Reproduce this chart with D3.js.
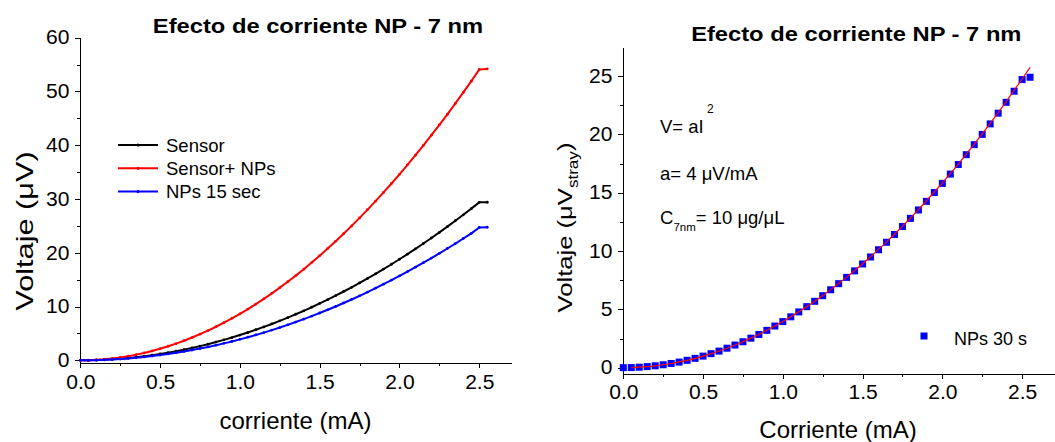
<!DOCTYPE html>
<html>
<head>
<meta charset="utf-8">
<script src="https://cdn.jsdelivr.net/npm/d3@7"></script>
<style>
  body { margin: 0; background: #fff; }
  svg text { font-family: "Liberation Sans", Arial, sans-serif; fill: #000; }
  .axis path, .axis line { stroke: #000; stroke-width: 1px; shape-rendering: crispEdges; }
  .axis text { font-size: 19.5px; }
</style>
</head>
<body>
<svg id="chart" width="1055" height="442"></svg>
<script>
'use strict';

// corriente (mA), same sweep for every series
var corriente = [
  0.00, 0.05, 0.10, 0.15, 0.20, 0.25, 0.30, 0.35, 0.40, 0.45,
  0.50, 0.55, 0.60, 0.65, 0.70, 0.75, 0.80, 0.85, 0.90, 0.95,
  1.00, 1.05, 1.10, 1.15, 1.20, 1.25, 1.30, 1.35, 1.40, 1.45,
  1.50, 1.55, 1.60, 1.65, 1.70, 1.75, 1.80, 1.85, 1.90, 1.95,
  2.00, 2.05, 2.10, 2.15, 2.20, 2.25, 2.30, 2.35, 2.40, 2.45,
  2.50, 2.55
];

// left panel, voltaje (uV)
var sensor = [
  0.00, 0.01, 0.05, 0.10, 0.19, 0.29, 0.42, 0.58, 0.75, 0.95,
  1.18, 1.42, 1.69, 1.99, 2.30, 2.64, 3.01, 3.40, 3.81, 4.24,
  4.70, 5.18, 5.69, 6.22, 6.77, 7.34, 7.94, 8.57, 9.21, 9.88,
  10.58, 11.29, 12.03, 12.80, 13.58, 14.39, 15.23, 16.09, 16.97, 17.87,
  18.80, 19.75, 20.73, 21.73, 22.75, 23.79, 24.86, 25.96, 27.07, 28.21,
  29.38, 29.40
];
var sensorNPs = [
  0.00, 0.02, 0.09, 0.19, 0.35, 0.54, 0.78, 1.06, 1.38, 1.75,
  2.16, 2.62, 3.11, 3.65, 4.24, 4.87, 5.54, 6.25, 7.01, 7.81,
  8.65, 9.54, 10.47, 11.44, 12.46, 13.52, 14.62, 15.76, 16.95, 18.19,
  19.46, 20.78, 22.14, 23.55, 25.00, 26.49, 28.03, 29.60, 31.23, 32.89,
  34.60, 36.35, 38.15, 39.99, 41.87, 43.79, 45.76, 47.77, 49.82, 51.92,
  54.10, 54.20
];
var nps15 = [
  0.00, 0.01, 0.04, 0.09, 0.16, 0.25, 0.36, 0.48, 0.63, 0.80,
  0.98, 1.19, 1.41, 1.66, 1.92, 2.20, 2.50, 2.82, 3.16, 3.52,
  3.90, 4.30, 4.72, 5.16, 5.62, 6.10, 6.60, 7.12, 7.66, 8.22,
  8.80, 9.40, 10.02, 10.66, 11.32, 12.00, 12.70, 13.42, 14.16, 14.92,
  15.70, 16.50, 17.32, 18.16, 19.02, 19.90, 20.80, 21.72, 22.66, 23.62,
  24.70, 24.75
];

// right panel, voltaje (uV stray)
var nps30 = [
  0.00, 0.01, 0.04, 0.09, 0.16, 0.25, 0.36, 0.48, 0.63, 0.80,
  0.99, 1.20, 1.42, 1.67, 1.94, 2.22, 2.53, 2.85, 3.20, 3.57,
  3.95, 4.36, 4.78, 5.23, 5.69, 6.17, 6.68, 7.20, 7.74, 8.30,
  8.89, 9.49, 10.11, 10.75, 11.42, 12.10, 12.80, 13.52, 14.26, 15.02,
  15.80, 16.60, 17.42, 18.26, 19.12, 20.00, 20.90, 21.82, 22.75, 23.70,
  24.70, 24.90
];
// fit V = aI^2, starts at 0.05 mA
var ajuste = [
  null, 0.01, 0.04, 0.09, 0.16, 0.25, 0.36, 0.49, 0.63, 0.80,
  0.99, 1.20, 1.43, 1.67, 1.94, 2.23, 2.53, 2.86, 3.21, 3.57,
  3.96, 4.37, 4.79, 5.24, 5.70, 6.19, 6.69, 7.22, 7.76, 8.33,
  8.91, 9.51, 10.14, 10.78, 11.44, 12.13, 12.83, 13.55, 14.30, 15.06,
  15.84, 16.64, 17.46, 18.31, 19.17, 20.05, 20.95, 21.87, 22.81, 23.77,
  24.75, 25.75
];

var xTicks = [ 0, 0.5, 1.0, 1.5, 2.0, 2.5 ];
var xMinor = [ 0.25, 0.75, 1.25, 1.75, 2.25 ];
var yTicksLeft = [ 0, 10, 20, 30, 40, 50, 60 ];
var yMinorLeft = [ 5, 15, 25, 35, 45, 55 ];
var yTicksRight = [ 0, 5, 10, 15, 20, 25 ];
var yMinorRight = [ 2.5, 7.5, 12.5, 17.5, 22.5 ];

var leftSeries = [
  { name: 'Sensor', values: sensor, color: '#000000' },
  { name: 'Sensor+ NPs', values: sensorNPs, color: '#ff0000' },
  { name: 'NPs 15 sec', values: nps15, color: '#0000ff' }
];

var svg = d3.select( '#chart' );

function pairs( values ) {
  return corriente.map( function( c, i ) {
    return { x: c, y: values[i] };
  } ).filter( function( d ) { return d.y !== null; } );
}

// text drawn with a horizontal stretch, the export is a bit wide
function label( txt, x, y, size, sx, opts ) {
  opts = opts || {};
  var t = svg.append( 'text' )
    .attr( 'transform', 'translate(' + x + ',' + y + ')' +
      ( opts.rotate ? ' rotate(' + opts.rotate + ')' : '' ) +
      ' scale(' + sx + ',1)' )
    .attr( 'text-anchor', opts.anchor || 'start' )
    .style( 'font-size', size + 'px' )
    .style( 'font-weight', opts.bold ? 'bold' : 'normal' );
  if ( txt !== null ) t.text( txt );
  return t;
}

function drawAxes( x, y, yTicks, yMinor, height ) {
  var gx = svg.append( 'g' )
    .attr( 'class', 'axis' )
    .attr( 'transform', 'translate(0,' + height + ')' )
    .call( d3.axisBottom( x )
      .tickValues( xTicks )
      .tickFormat( d3.format( '.1f' ) )
      .tickSize( 5 )
      .tickPadding( 7 )
      .tickSizeOuter( 0 ) );
  gx.selectAll( '.tick text' ).attr( 'transform', 'scale(1.08,1)' );

  svg.append( 'g' )
    .attr( 'class', 'axis' )
    .attr( 'transform', 'translate(0,' + height + ')' )
    .call( d3.axisBottom( x ).tickValues( xMinor ).tickFormat( '' ).tickSize( 3 ).tickSizeOuter( 0 ) )
    .call( function( g ) { g.select( '.domain' ).remove(); } );

  var left = x.range()[0];
  var gy = svg.append( 'g' )
    .attr( 'class', 'axis' )
    .attr( 'transform', 'translate(' + left + ',0)' )
    .call( d3.axisLeft( y )
      .tickValues( yTicks )
      .tickFormat( d3.format( 'd' ) )
      .tickSize( 5 )
      .tickPadding( 5 )
      .tickSizeOuter( 0 ) );
  gy.selectAll( '.tick text' ).attr( 'transform', 'scale(1.08,1)' );

  svg.append( 'g' )
    .attr( 'class', 'axis' )
    .attr( 'transform', 'translate(' + left + ',0)' )
    .call( d3.axisLeft( y ).tickValues( yMinor ).tickFormat( '' ).tickSize( 3 ).tickSizeOuter( 0 ) )
    .call( function( g ) { g.select( '.domain' ).remove(); } );
}

// ---------- left panel ----------
var x1 = d3.scaleLinear().domain( [ 0, 2.7 ] ).range( [ 80.3, 511.2 ] );
var y1 = d3.scaleLinear().domain( [ -0.55, 60 ] ).range( [ 363.3, 37.7 ] );

drawAxes( x1, y1, yTicksLeft, yMinorLeft, 363.3 );

var line1 = d3.line()
  .x( function( d ) { return x1( d.x ); } )
  .y( function( d ) { return y1( d.y ); } );

leftSeries.forEach( function( s ) {
  var pts = pairs( s.values );
  svg.append( 'path' )
    .attr( 'd', line1( pts ) )
    .attr( 'fill', 'none' )
    .attr( 'stroke', s.color )
    .attr( 'stroke-width', 2 );
  svg.append( 'g' ).selectAll( 'circle' )
    .data( pts )
    .enter().append( 'circle' )
      .attr( 'cx', function( d ) { return x1( d.x ); } )
      .attr( 'cy', function( d ) { return y1( d.y ); } )
      .attr( 'r', 1.4 )
      .attr( 'fill', s.color );
} );

// legend
leftSeries.forEach( function( s, i ) {
  var ly = 145 + i * 23.3;
  svg.append( 'line' )
    .attr( 'x1', 118 ).attr( 'x2', 158 )
    .attr( 'y1', ly ).attr( 'y2', ly )
    .attr( 'stroke', s.color )
    .attr( 'stroke-width', 2 );
  svg.append( 'circle' )
    .attr( 'cx', 138 ).attr( 'cy', ly ).attr( 'r', 1.6 )
    .attr( 'fill', s.color );
  label( s.name, 166, ly + 6.8, 18.5, 1 );
} );

label( 'Efecto de corriente NP - 7 nm', 318, 32.5, 21, 1.13, { anchor: 'middle', bold: true } );
label( 'corriente (mA)', 295.5, 429, 24, 1, { anchor: 'middle' } );
label( 'Voltaje (\u03bcV)', 33, 231, 24, 1.28, { anchor: 'middle', rotate: -90 } );

// ---------- right panel ----------
var x2 = d3.scaleLinear().domain( [ 0, 2.7 ] ).range( [ 623.3, 1054 ] );
var y2 = d3.scaleLinear().domain( [ -0.5, 27.45 ] ).range( [ 373.5, 47.5 ] );

drawAxes( x2, y2, yTicksRight, yMinorRight, 373.5 );

var sq = 7;
svg.append( 'g' ).selectAll( 'rect' )
  .data( pairs( nps30 ) )
  .enter().append( 'rect' )
    .attr( 'x', function( d ) { return x2( d.x ) - sq / 2; } )
    .attr( 'y', function( d ) { return y2( d.y ) - sq / 2; } )
    .attr( 'width', sq )
    .attr( 'height', sq )
    .attr( 'fill', '#0000ff' );

var line2 = d3.line()
  .x( function( d ) { return x2( d.x ); } )
  .y( function( d ) { return y2( d.y ); } )
  .curve( d3.curveMonotoneX );

svg.append( 'path' )
  .attr( 'd', line2( pairs( ajuste ) ) )
  .attr( 'fill', 'none' )
  .attr( 'stroke', '#ff0000' )
  .attr( 'stroke-width', 1.2 );

// legend
svg.append( 'rect' )
  .attr( 'x', 924 - sq / 2 ).attr( 'y', 336 - sq / 2 )
  .attr( 'width', sq ).attr( 'height', sq )
  .attr( 'fill', '#0000ff' );
label( 'NPs 30 s', 954, 344.5, 18, 1 );

// annotations
label( 'V= aI', 660, 133, 18.5, 1 );
label( '2', 707, 113, 12, 1 );
label( 'a= 4 \u03bcV/mA', 660, 180, 18.5, 1 );
var c = label( null, 660, 224, 18.5, 1 );
c.append( 'tspan' ).text( 'C' );
c.append( 'tspan' ).attr( 'dy', 7 ).style( 'font-size', '11.5px' ).text( '7nm' );
c.append( 'tspan' ).attr( 'dy', -7 ).text( '= 10 \u03bcg/\u03bcL' );

label( 'Efecto de corriente NP - 7 nm', 856.3, 41, 21, 1.13, { anchor: 'middle', bold: true } );
label( 'Corriente (mA)', 838, 438, 24, 1, { anchor: 'middle' } );

var vl = label( null, 572, 227.5, 21, 1.22, { anchor: 'middle', rotate: -90 } );
vl.append( 'tspan' ).text( 'Voltaje (\u03bcV' );
vl.append( 'tspan' ).attr( 'dy', 6 ).style( 'font-size', '14px' ).text( 'stray' );
vl.append( 'tspan' ).attr( 'dy', -6 ).text( ')' );
</script>
</body>
</html>
